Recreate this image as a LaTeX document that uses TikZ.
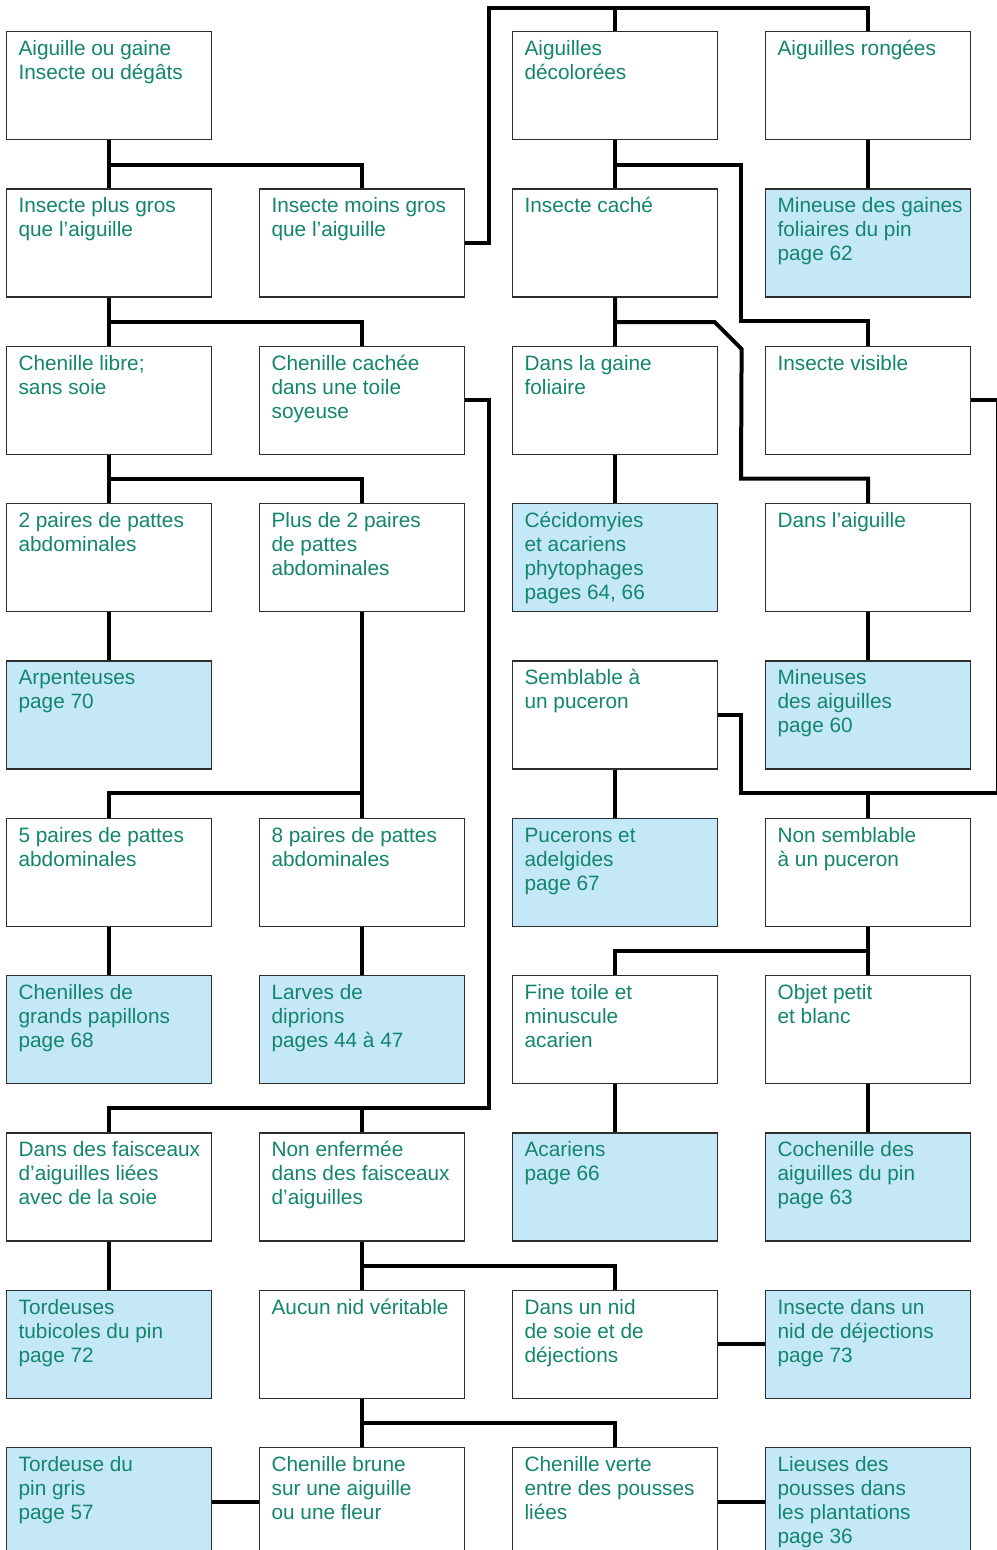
\documentclass[tikz,border=0pt]{standalone}
\usepackage{fontspec}
\setmainfont{Liberation Sans}
\definecolor{ink}{RGB}{18,133,108}
\definecolor{keyfill}{RGB}{197,232,248}
\definecolor{frame}{RGB}{45,45,45}
\newcommand{\celltxt}[1]{\parbox[c][108pt][t]{205pt}{\raggedright\leftskip=12pt\rule{0pt}{24pt}#1}}
\tikzset{
  box/.style={draw=frame, line width=1.2pt, fill=white, anchor=north west, inner sep=0pt,
    text=ink, font=\fontsize{20.8}{24}\selectfont},
  keybox/.style={box, fill=keyfill},
  link/.style={line width=4pt}
}
\begin{document}
\begin{tikzpicture}[x=1pt, y=-1pt]
  \useasboundingbox (0,0) rectangle (996,1550);
  % row 1
  \node [box] (aiguille) at (6,31) {\celltxt{Aiguille ou gaine\\Insecte ou dégâts}};
  \node [box] (decolorees) at (512,31) {\celltxt{Aiguilles\\décolorées}};
  \node [box] (rongees) at (765,31) {\celltxt{Aiguilles rongées}};
  % row 2
  \node [box] (plusgros) at (6,188.3) {\celltxt{Insecte plus gros\\que l’aiguille}};
  \node [box] (moinsgros) at (259,188.3) {\celltxt{Insecte moins gros\\que l’aiguille}};
  \node [box] (cache) at (512,188.3) {\celltxt{Insecte caché}};
  \node [keybox] (mineusegaine) at (765,188.3) {\celltxt{Mineuse des gaines\\foliaires du pin\\page 62}};
  % row 3
  \node [box] (libre) at (6,345.7) {\celltxt{Chenille libre;\\sans soie}};
  \node [box] (toile) at (259,345.7) {\celltxt{Chenille cachée\\dans une toile\\soyeuse}};
  \node [box] (gainef) at (512,345.7) {\celltxt{Dans la gaine\\foliaire}};
  \node [box] (visible) at (765,345.7) {\celltxt{Insecte visible}};
  % row 4
  \node [box] (deuxpaires) at (6,503) {\celltxt{2 paires de pattes\\abdominales}};
  \node [box] (plusdedeux) at (259,503) {\celltxt{Plus de 2 paires\\de pattes\\abdominales}};
  \node [keybox] (cecido) at (512,503) {\celltxt{Cécidomyies\\et acariens\\phytophages\\pages 64, 66}};
  \node [box] (dansaig) at (765,503) {\celltxt{Dans l’aiguille}};
  % row 5
  \node [keybox] (arpent) at (6,660.3) {\celltxt{Arpenteuses\\page 70}};
  \node [box] (puceron) at (512,660.3) {\celltxt{Semblable à\\un puceron}};
  \node [keybox] (mineusesaig) at (765,660.3) {\celltxt{Mineuses\\des aiguilles\\page 60}};
  % row 6
  \node [box] (cinqp) at (6,817.7) {\celltxt{5 paires de pattes\\abdominales}};
  \node [box] (huitp) at (259,817.7) {\celltxt{8 paires de pattes\\abdominales}};
  \node [keybox] (pucerons) at (512,817.7) {\celltxt{Pucerons et\\adelgides\\page 67}};
  \node [box] (nonpuceron) at (765,817.7) {\celltxt{Non semblable\\à un puceron}};
  % row 7
  \node [keybox] (grandspap) at (6,975) {\celltxt{Chenilles de\\grands papillons\\page 68}};
  \node [keybox] (diprions) at (259,975) {\celltxt{Larves de\\diprions\\pages 44 à 47}};
  \node [box] (finetoile) at (512,975) {\celltxt{Fine toile et\\minuscule\\acarien}};
  \node [box] (objet) at (765,975) {\celltxt{Objet petit\\et blanc}};
  % row 8
  \node [box] (faisceaux) at (6,1132.3) {\celltxt{Dans des faisceaux\\d’aiguilles liées\\avec de la soie}};
  \node [box] (nonenf) at (259,1132.3) {\celltxt{Non enfermée\\dans des faisceaux\\d’aiguilles}};
  \node [keybox] (acariens) at (512,1132.3) {\celltxt{Acariens\\page 66}};
  \node [keybox] (cochenille) at (765,1132.3) {\celltxt{Cochenille des\\aiguilles du pin\\page 63}};
  % row 9
  \node [keybox] (tubicoles) at (6,1289.7) {\celltxt{Tordeuses\\tubicoles du pin\\page 72}};
  \node [box] (aucunnid) at (259,1289.7) {\celltxt{Aucun nid véritable}};
  \node [box] (nidsoie) at (512,1289.7) {\celltxt{Dans un nid\\de soie et de\\déjections}};
  \node [keybox] (nidinsecte) at (765,1289.7) {\celltxt{Insecte dans un\\nid de déjections\\page 73}};
  % row 10
  \node [keybox] (pingris) at (6,1447) {\celltxt{Tordeuse du\\pin gris\\page 57}};
  \node [box] (brune) at (259,1447) {\celltxt{Chenille brune\\sur une aiguille\\ou une fleur}};
  \node [box] (verte) at (512,1447) {\celltxt{Chenille verte\\entre des pousses\\liées}};
  \node [keybox] (lieuses) at (765,1447) {\celltxt{Lieuses des\\pousses dans\\les plantations\\page 36}};

  % left half
  \draw [link] (aiguille.south) -- (plusgros.north);
  \draw [link] (aiguille.south) -- ++(0,24.5) -| (moinsgros.north);
  \draw [link] (plusgros.south) -- (libre.north);
  \draw [link] (plusgros.south) -- ++(0,24.5) -| (toile.north);
  \draw [link] (libre.south) -- (deuxpaires.north);
  \draw [link] (libre.south) -- ++(0,24.5) -| (plusdedeux.north);
  \draw [link] (deuxpaires.south) -- (arpent.north);
  \draw [link] (plusdedeux.south) -- (huitp.north);
  \draw [link] (huitp.north) -- ++(0,-24.5) -| (cinqp.north);
  \draw [link] (cinqp.south) -- (grandspap.north);
  \draw [link] (huitp.south) -- (diprions.north);
  \draw [link] (toile.east) -| (489,1107.8) -| (faisceaux.north);
  \draw [link] (nonenf.north) -- ++(0,-24.5);
  \draw [link] (faisceaux.south) -- (tubicoles.north);
  \draw [link] (nonenf.south) -- (aucunnid.north);
  \draw [link] (nonenf.south) -- ++(0,24.5) -| (nidsoie.north);
  \draw [link] (nidsoie.east) -- (nidinsecte.west);
  \draw [link] (aucunnid.south) -- (brune.north);
  \draw [link] (aucunnid.south) -- ++(0,24.5) -| (verte.north);
  \draw [link] (brune.west) -- (pingris.east);
  \draw [link] (verte.east) -- (lieuses.west);
  % right half
  \coordinate (topline) at (489,8);
  \draw [link] (moinsgros.east) -| (topline) -| (rongees.north);
  \draw [link] (decolorees.north) -- (decolorees.north |- topline);
  \draw [link] (rongees.south) -- (mineusegaine.north);
  \draw [link] (decolorees.south) -- (cache.north);
  \draw [link] (decolorees.south) -- ++(0,24.5) -| (741,321.2) -| (visible.north);
  \draw [link] (cache.south) -- (gainef.north);
  \draw [link] (cache.south) -- ++(0,24.5) -- ++(99.5,0) -- ++(27,27) -- (741,478.5) -| (dansaig.north);
  \draw [link] (gainef.south) -- (cecido.north);
  \draw [link] (dansaig.south) -- (mineusesaig.north);
  \coordinate (turn) at (741,793.2);
  \draw [link] (visible.east) -| (998,793.2) -- (turn) |- (puceron.east);
  \draw [link] (nonpuceron.north) -- (nonpuceron.north |- turn);
  \draw [link] (puceron.south) -- (pucerons.north);
  \draw [link] (nonpuceron.south) -- (objet.north);
  \draw [link] (nonpuceron.south) -- ++(0,24.5) -| (finetoile.north);
  \draw [link] (finetoile.south) -- (acariens.north);
  \draw [link] (objet.south) -- (cochenille.north);
\end{tikzpicture}
\end{document}
